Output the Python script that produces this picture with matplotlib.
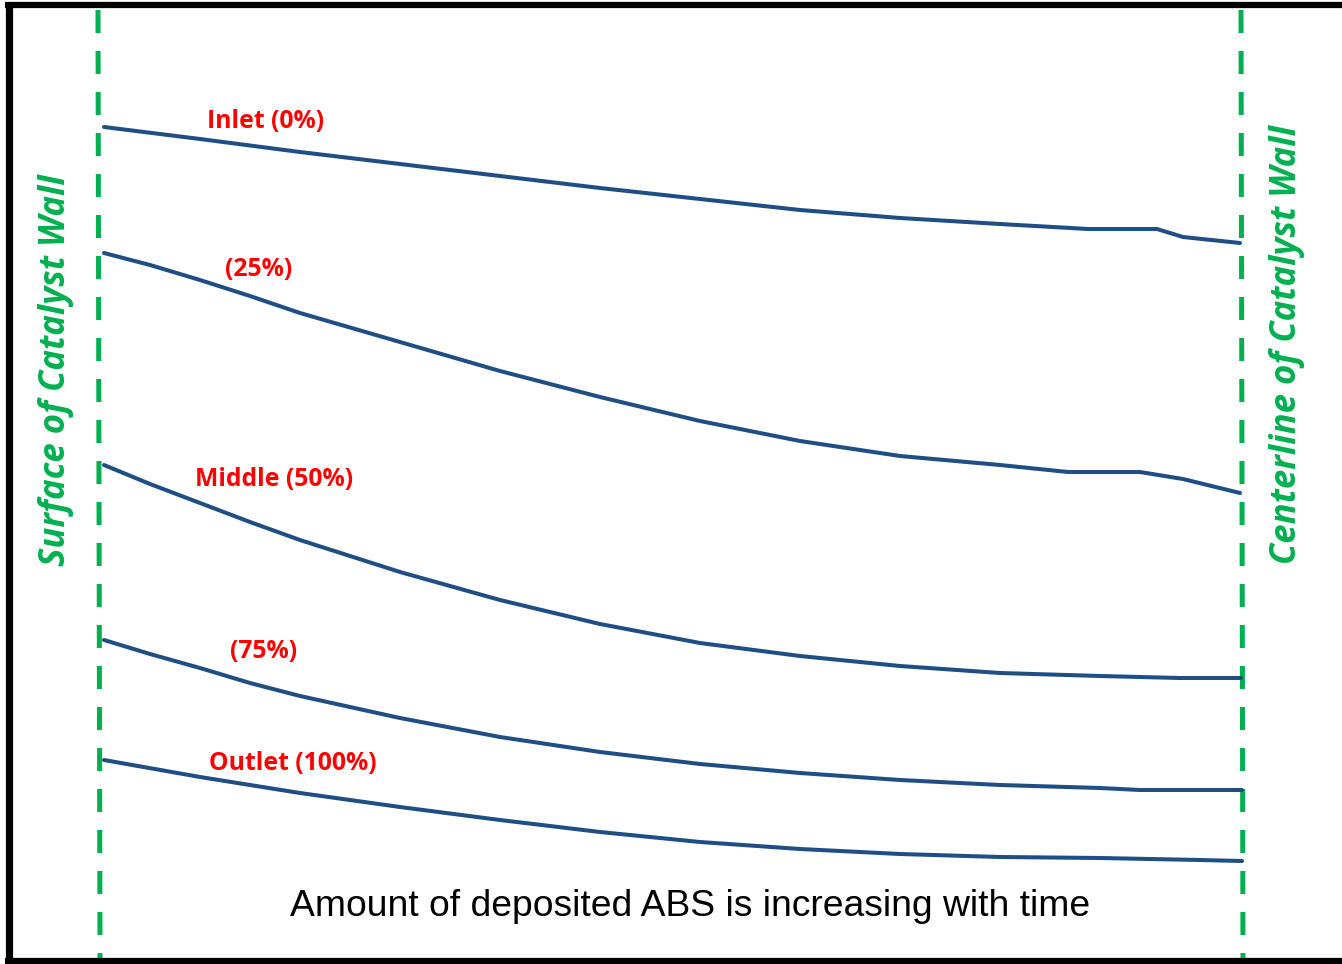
import matplotlib
matplotlib.use("Agg")
import matplotlib.pyplot as plt

# Curvas (x: posición en la pared, y: nivel en px de la figura)
inlet_x = [104, 200, 300, 400, 500, 600, 700, 800, 900, 1000, 1088, 1157, 1183, 1240]
inlet_y = [127, 139, 152, 164, 176, 188, 199, 210, 218, 224, 229, 229, 237, 243]

p25_x = [104, 150, 200, 250, 300, 400, 500, 600, 700, 800, 900, 1000, 1068, 1140, 1183, 1240]
p25_y = [253, 265, 280, 296, 313, 342, 371, 397, 421, 441, 456, 465, 472, 472, 479, 493]

middle_x = [104, 150, 200, 250, 300, 400, 500, 600, 700, 800, 900, 1000, 1100, 1180, 1241]
middle_y = [465, 484, 503, 522, 540, 572, 600, 624, 643, 656, 666, 673, 676, 678, 678]

p75_x = [104, 150, 200, 250, 300, 400, 500, 600, 700, 800, 900, 1000, 1100, 1140, 1242]
p75_y = [640, 654, 668, 683, 696, 718, 737, 752, 764, 773, 780, 785, 788, 790, 790]

outlet_x = [104, 200, 300, 400, 500, 600, 700, 800, 900, 1000, 1100, 1200, 1242]
outlet_y = [760, 777, 793, 807, 820, 832, 842, 849, 854, 857, 858, 860, 861]

etiquetas = ["Inlet (0%)", "(25%)", "Middle (50%)", "(75%)", "Outlet (100%)"]
etiqueta_pos = [(266, 122), (259, 270), (274, 479), (264, 652), (293, 764)]

azul = "#1f4e85"
verde = "#00b050"

fig = plt.figure(figsize=(13.42, 9.64), dpi=100)
ax = fig.add_axes([0, 0, 1, 1])
ax.set_xlim(0, 1342)
ax.set_ylim(964, 0)
ax.axis("off")

# Marco negro (sin lado derecho)
ax.plot([8.5, 8.5], [5, 961], color="black", lw=5.2, solid_capstyle="butt")
ax.plot([5, 1342], [5, 5], color="black", lw=4.5, solid_capstyle="butt")
ax.plot([5, 1342], [961, 961], color="black", lw=4.5, solid_capstyle="butt")

# Líneas verdes discontinuas
for xs in ([98, 100], [1241, 1243]):
    ln, = ax.plot(xs, [10, 958], color=verde, lw=3.6, solid_capstyle="butt")
    ln.set_dashes((4.6, 3.6))

curvas = [(inlet_x, inlet_y), (p25_x, p25_y), (middle_x, middle_y),
          (p75_x, p75_y), (outlet_x, outlet_y)]
for (cx, cy) in curvas:
    ax.plot(cx, cy, color=azul, lw=2.9, solid_capstyle="round")

for txt, (tx, ty) in zip(etiquetas, etiqueta_pos):
    ax.text(tx, ty, txt, color="#ff0000", fontsize=17.8, fontweight="bold",
            ha="center", va="center", family="Open Sans")

ax.text(56, 370, "Surface of Catalyst Wall", color=verde, fontsize=25,
        fontweight="bold", fontstyle="italic", rotation=90,
        ha="center", va="center", family="Open Sans")
ax.text(1287, 345, "Centerline of Catalyst Wall", color=verde, fontsize=25,
        fontweight="bold", fontstyle="italic", rotation=90,
        ha="center", va="center", family="Open Sans")

ax.text(690, 906, "Amount of deposited ABS is increasing with time", color="black",
        fontsize=26.8, ha="center", va="center", family="Liberation Sans")

fig.savefig("out.png", dpi=100)
